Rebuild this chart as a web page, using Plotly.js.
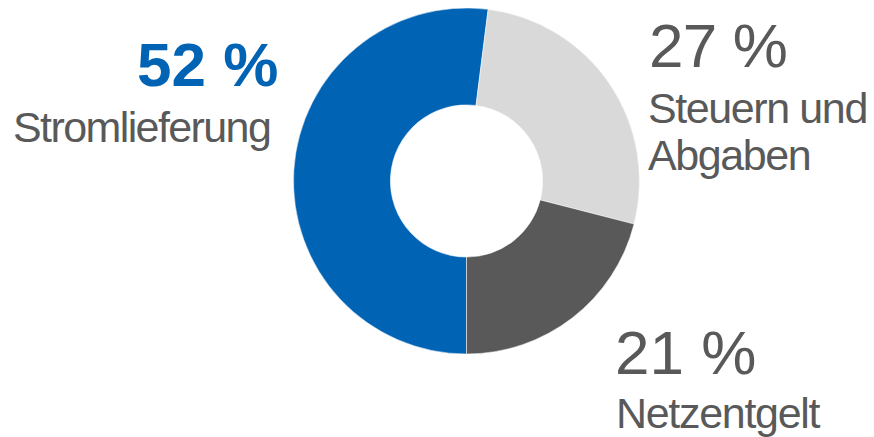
<!DOCTYPE html>
<html>
<head>
<meta charset="utf-8">
<script src="https://cdn.plot.ly/plotly-3.0.1.min.js"></script>
<style>
  html, body { margin: 0; padding: 0; background: #ffffff; }
  #chart { width: 874px; height: 437px; }
</style>
</head>
<body>
<div id="chart"></div>
<script>
// Data
const categories = ['Stromlieferung', 'Steuern und Abgaben', 'Netzentgelt'];
const shares = [52, 27, 21];
const percentLabels = ['52 %', '27 %', '21 %'];
const labelLines = [['Stromlieferung'], ['Steuern und', 'Abgaben'], ['Netzentgelt']];

// Styles
const sliceColors = ['#0063B4', '#D9D9D9', '#595959'];
const textGrey = '#595959';
const W = 874, H = 437;
const FONT = 'Liberation Sans, Arial, sans-serif';

function px2x(px) { return px / W; }
function px2y(py) { return 1 - py / H; }
function spaced(t, ls) { return '<span style="letter-spacing:' + ls + 'px">' + t + '</span>'; }

// pie geometry (pixels)
const cx = 466.5, cy = 181, R = 173;

const trace = {
  type: 'pie',
  labels: categories,
  values: shares,
  sort: false,
  direction: 'clockwise',
  rotation: 180,
  hole: 0.44,
  textinfo: 'none',
  hoverinfo: 'none',
  showlegend: false,
  marker: { colors: sliceColors, line: { color: '#ffffff', width: 0.5 } },
  domain: { x: [px2x(cx - R), px2x(cx + R)], y: [px2y(cy + R), px2y(cy - R)] }
};

// label placement: [text, size, color, x(px), xanchor, midY(px)]
const placements = [
  ['<b>' + percentLabels[0] + '</b>', 62, '#0063B4', 278, 'right', 64.5],
  [spaced(labelLines[0][0], -1.6), 43, textGrey, 270, 'right', 126.8],
  [spaced(percentLabels[1], -0.8), 62, textGrey, 649, 'left', 45.8],
  [spaced(labelLines[1][0], -1.4), 43, textGrey, 648, 'left', 108.1],
  [spaced(labelLines[1][1], -1.4), 43, textGrey, 648, 'left', 155.1],
  [percentLabels[2], 62, textGrey, 615, 'left', 352.5],
  [spaced(labelLines[2][0], -1.3), 43, textGrey, 616, 'left', 413.1]
];

const annotations = placements.map(p => ({
  text: p[0],
  font: { family: FONT, size: p[1], color: p[2] },
  xref: 'paper', yref: 'paper',
  x: px2x(p[3]), y: px2y(p[5]),
  xanchor: p[4], yanchor: 'middle',
  showarrow: false,
  borderpad: 0, borderwidth: 0
}));

const layout = {
  width: W, height: H,
  margin: { l: 0, r: 0, t: 0, b: 0 },
  paper_bgcolor: '#ffffff',
  plot_bgcolor: '#ffffff',
  font: { family: FONT, color: textGrey },
  annotations: annotations
};

Plotly.newPlot('chart', [trace], layout, { staticPlot: true, displayModeBar: false });
</script>
</body>
</html>
